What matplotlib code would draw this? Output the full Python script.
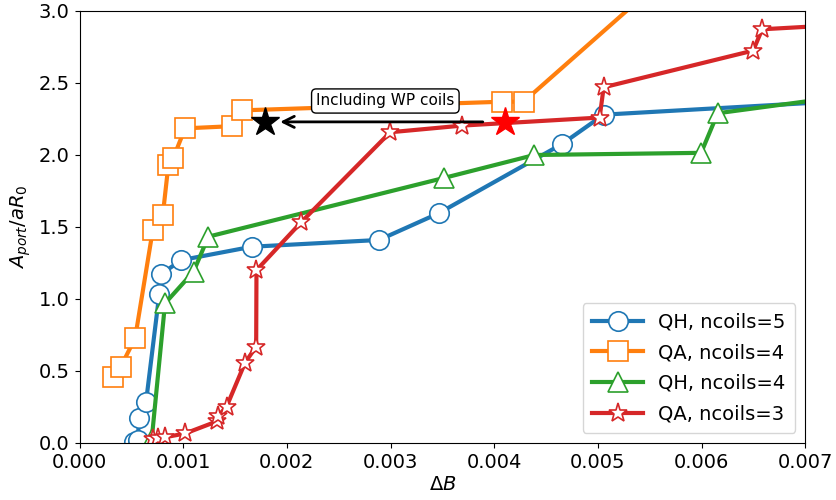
"""Port area vs field error for QH / QA coil sets."""

import numpy as np
import matplotlib
matplotlib.use("Agg")
import matplotlib.pyplot as plt

# QH, ncoils=5
qh5_db = [0.00053, 0.00056, 0.000577, 0.000642, 0.00077, 0.000789, 0.000982,
          0.001662, 0.00289, 0.003463, 0.004654, 0.005056, 0.0075]
qh5_ap = [0.01, 0.02, 0.177, 0.287, 1.037, 1.174, 1.27,
          1.363, 1.41, 1.595, 2.076, 2.28, 2.38]

# QA, ncoils=4
qa4_db = [0.000326, 0.000398, 0.000536, 0.000707, 0.000803, 0.000857, 0.000905,
          0.001018, 0.001469, 0.001571, 0.004075, 0.004284, 0.006]
qa4_ap = [0.46, 0.53, 0.727, 1.48, 1.58, 1.93, 1.98,
          2.185, 2.20, 2.31, 2.37, 2.37, 3.46]

# QH, ncoils=4
qh4_db = [0.000697, 0.000825, 0.0011, 0.001243, 0.003512, 0.004387,
          0.005996, 0.006156, 0.0075]
qh4_ap = [0.03, 0.97, 1.19, 1.433, 1.84, 2.0,
          2.015, 2.29, 2.42]

# QA, ncoils=3
qa3_db = [0.00071, 0.000758, 0.000825, 0.001018, 0.001324, 0.00134, 0.001419,
          0.001597, 0.001704, 0.001707, 0.002138, 0.002997, 0.003687,
          0.005017, 0.005056, 0.006498, 0.006585, 0.0075]
qa3_ap = [0.03, 0.035, 0.04, 0.066, 0.15, 0.19, 0.253,
          0.558, 0.669, 1.2, 1.533, 2.158, 2.204,
          2.26, 2.47, 2.725, 2.873, 2.91]

# with / without WP coils
wp_without = (0.004107, 2.23)
wp_with = (0.00179, 2.23)
arrow_from = (0.00389, 2.23)
arrow_to = (0.001935, 2.23)
label_pos = (0.00295, 2.375)

plt.rcParams["font.size"] = 14

fig, ax = plt.subplots(figsize=(8.37, 5.0), dpi=100)
fig.subplots_adjust(left=0.095, right=0.962, top=0.978, bottom=0.114)

style = dict(lw=3, ms=14, mfc="white", mew=1.2)
ax.plot(qh5_db, qh5_ap, marker="o", color="tab:blue", label="QH, ncoils=5", **style)
ax.plot(qa4_db, qa4_ap, marker="s", color="tab:orange", label="QA, ncoils=4", **style)
ax.plot(qh4_db, qh4_ap, marker="^", color="tab:green", label="QH, ncoils=4", **style)
ax.plot(qa3_db, qa3_ap, marker="*", color="tab:red", label="QA, ncoils=3", **style)

ax.annotate("", xy=arrow_to, xytext=arrow_from,
            arrowprops=dict(arrowstyle="->", color="black", lw=2,
                            mutation_scale=20, shrinkA=0, shrinkB=0),
            zorder=5)
ax.plot(*wp_without, marker="*", color="red", ms=21, zorder=6)
ax.plot(*wp_with, marker="*", color="black", ms=21, zorder=6)
ax.text(*label_pos, "Including WP coils", ha="center", va="center", fontsize=11,
        bbox=dict(boxstyle="round", fc="white", ec="black"), zorder=7)

ax.set_xlim(0, 0.007)
ax.set_ylim(0, 3.0)
ax.set_xticks(np.arange(0, 0.0071, 0.001))
ax.set_xticklabels([f"{v:.3f}" for v in np.arange(0, 0.0071, 0.001)])
ax.set_xlabel(r"$\Delta B$", labelpad=2)
ax.set_ylabel(r"$A_{port}/aR_0$")
ax.legend(loc="lower right", handlelength=2.6, labelspacing=0.6, borderpad=0.5)

plt.savefig("out.png", dpi=100)
plt.close()
